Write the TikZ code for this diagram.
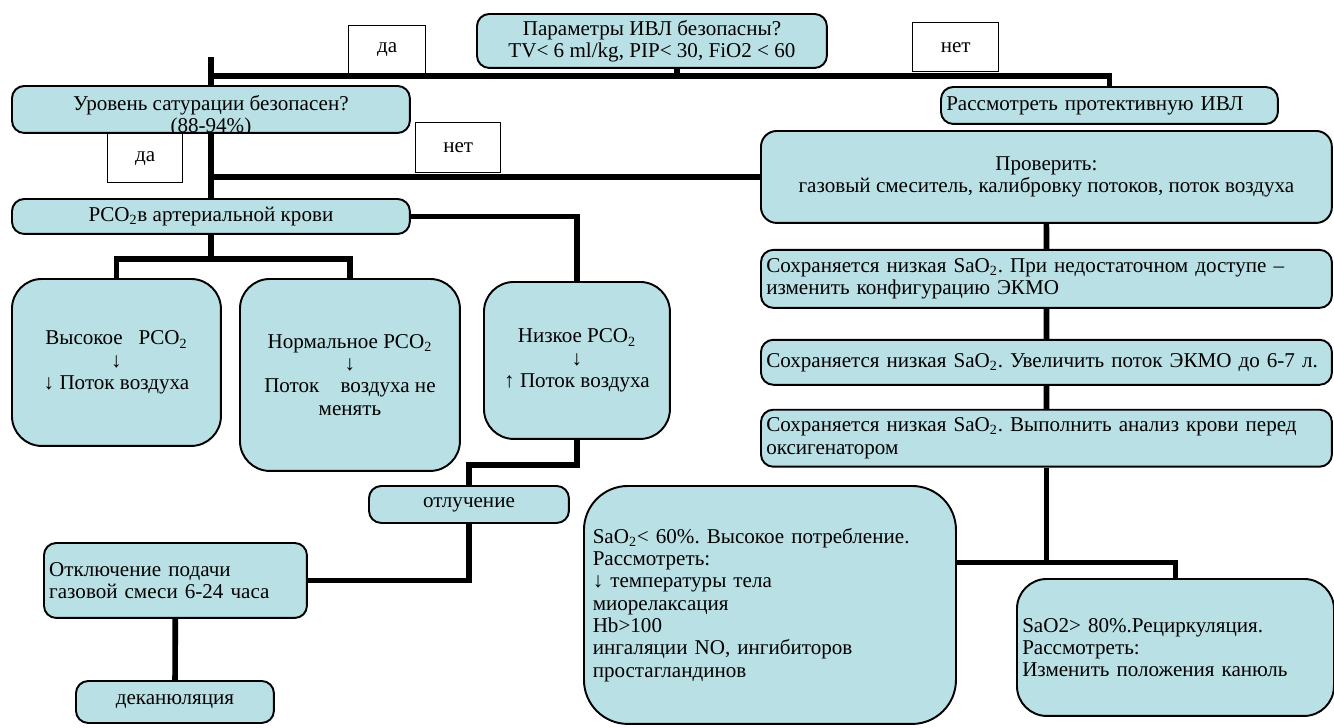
\documentclass[tikz,border=0pt]{standalone}
\usepackage{fontspec}
\setmainfont{Liberation Serif}
\frenchspacing
\usetikzlibrary{calc, positioning, backgrounds}
\definecolor{boxblue}{RGB}{185,224,228}
\tikzset{
  txt/.style = {align=center, font=\fontsize{12}{12.7}\selectfont},
  base/.style = {rectangle, draw=black, line width=1.1pt, fill=boxblue,
                 rounded corners=7pt, inner xsep=3pt, inner ysep=2pt,
                 font=\fontsize{12}{12.7}\selectfont, anchor=north west},
  box/.style = {base, align=center},
  note/.style = {base, align=left},
  round/.style = {box, rounded corners=17pt},
  tag/.style = {rectangle, draw=black, line width=0.8pt, fill=white,
                font=\fontsize{12}{12.7}\selectfont, anchor=north west},
  link/.style = {line width=3.2pt},
}
\begin{document}
\begin{tikzpicture}[x=0.02cm, y=-0.02cm]
  \useasboundingbox (0,0) rectangle (1334,727);

  % вопросы
  \node (top) [box, minimum width=7cm, minimum height=1.08cm] at (476,13)
    {Параметры ИВЛ безопасны?\\TV< 6 ml/kg, PIP< 30, FiO2 < 60};
  \node (sat) [box, minimum width=7.96cm, minimum height=0.94cm] at (11,85) {};
  \begin{scope}
    \clip (sat.north west) rectangle (sat.south east);
    \node (sattext) [txt] at ([yshift=-0.13cm]sat.center)
      {Уровень сатурации безопасен?\\(88-94\%)};
  \end{scope}
  \node (prot) [note, text width=6.53cm, minimum height=0.74cm] at (940,86)
    {Рассмотреть протективную ИВЛ};

  % правая ветвь
  \node (chk) [round, rounded corners=9pt, minimum width=11.42cm, minimum height=1.84cm] at (760,130)
    {Проверить:\\газовый смеситель, калибровку потоков, поток воздуха};
  \node (s1) [note, text width=11.21cm, minimum height=1.16cm, below=0.5cm of chk.south west, anchor=north west]
    {Сохраняется низкая SaO\textsubscript{2}. При недостаточном доступе –\\изменить конфигурацию ЭКМО};
  \node (s2) [note, text width=11.21cm, minimum height=0.9cm, below=0.6cm of s1.south west, anchor=north west]
    {Сохраняется низкая SaO\textsubscript{2}. Увеличить поток ЭКМО до 6-7 л.};
  \node (s3) [note, text width=11.21cm, minimum height=1.14cm, below=0.46cm of s2.south west, anchor=north west]
    {Сохраняется низкая SaO\textsubscript{2}. Выполнить анализ крови перед\\оксигенатором};
  \node (low60) [note, rounded corners=25pt, inner xsep=5pt, text width=7.09cm, minimum height=4.76cm] at (583,485)
    {SaO\textsubscript{2}< 60\%. Высокое потребление.\\Рассмотреть:\\↓ температуры тела\\миорелаксация\\Hb>100\\ингаляции NO, ингибиторов\\простагландинов};
  \node (high80) [note, rounded corners=17pt, text width=6.13cm, minimum height=2.74cm] at (1016,578)
    {SaO2> 80\%.Рециркуляция.\\Рассмотреть:\\Изменить положения канюль};

  % левая ветвь
  \node (pco2) [box, minimum width=7.96cm, minimum height=0.7cm] at (11,198)
    {PCO\textsubscript{2}в артериальной крови};
  \node (hi) [round, minimum width=4.18cm, minimum height=3.34cm] at (11,278)
    {Высокое\ \ \ PCO\textsubscript{2}\\↓\\↓ Поток воздуха};
  \node (norm) [round, minimum width=4.4cm, minimum height=3.84cm] at (239,278)
    {Нормальное PCO\textsubscript{2}\\↓\\Поток\quad воздуха не\\менять};
  \node (lo) [round, minimum width=3.72cm, minimum height=3.14cm] at (483,281)
    {Низкое PCO\textsubscript{2}\\↓\\↑ Поток воздуха};
  \node (wean) [box, minimum width=4cm, minimum height=0.74cm] at (368,485) {отлучение};
  \node (off) [note, text width=5.05cm, minimum height=1.5cm] at (43,542)
    {Отключение подачи\\газовой смеси 6-24 часа};
  \node (decan) [box, minimum width=3.96cm, minimum height=0.84cm] at (75,680) {деканюляция};

  % да / нет
  \node (yes1) [tag, minimum width=1.54cm, minimum height=0.96cm] at (348,25) {да};
  \node (no1) [tag, minimum width=1.72cm, minimum height=0.98cm] at (912,22) {нет};
  \node (yes2) [tag, minimum width=1.5cm, minimum height=0.98cm] at (107,133) {да};
  \node (no2) [tag, minimum width=1.7cm, minimum height=1cm] at (415,122) {нет};

  \begin{pgfonlayer}{background}
    \coordinate (bus) at ($(top.south)+(25,7)$);
    \draw[link] (top.south -| bus) -- (bus);
    \draw[link] (sat.north |- bus) -- (bus -| prot.north) -- (prot.north);
    \draw[link] ($(sat.north)+(0,-28)$) -- (pco2.north);
    \draw[link] (sat.south |- chk.west) -- (chk.west);
    \draw[link] (chk) -- (s1) -- (s2) -- (s3);
    \coordinate (fork) at ($(s3.south)+(0,95)$);
    \draw[link] (s3.south) -- (fork);
    \draw[link] (fork -| low60.east) -- (fork -| high80.north) -- (high80.north);
    \draw[link] (pco2.east) -| (lo.north);
    \draw[link] (pco2.south) -- ++(0,24) coordinate (split);
    \draw[link] (hi.north) |- (split) -| (norm.north);
    \draw[link] (lo.south) -- ++(0,25) -| (wean.north);
    \draw[link] (wean.south) |- (off.east);
    \draw[link] (off) -- (decan);
  \end{pgfonlayer}
\end{tikzpicture}
\end{document}
